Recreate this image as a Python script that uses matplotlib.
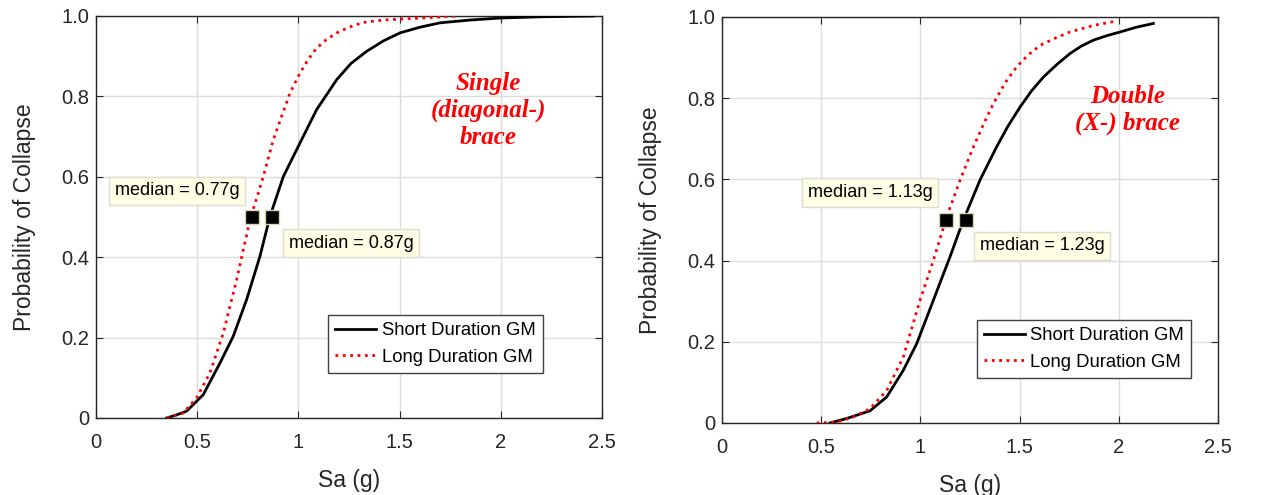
import numpy as np
import matplotlib
matplotlib.use("Agg")
import matplotlib.pyplot as plt

plt.rcParams['font.family'] = ['Liberation Sans', 'DejaVu Sans']

# single (diagonal-) brace
single_short_x = [0.35, 0.40, 0.448, 0.53, 0.613, 0.678, 0.744, 0.81, 0.86, 0.926, 1.0, 1.09, 1.19, 1.26, 1.337, 1.42, 1.502, 1.60, 1.70, 1.85, 2.0, 2.2, 2.46]
single_short_p = [0.0, 0.008, 0.017, 0.058, 0.137, 0.203, 0.294, 0.402, 0.502, 0.601, 0.676, 0.767, 0.842, 0.882, 0.912, 0.938, 0.958, 0.972, 0.983, 0.99, 0.995, 0.998, 1.0]
single_long_x = [0.35, 0.43, 0.497, 0.563, 0.629, 0.695, 0.761, 0.827, 0.876, 0.958, 1.008, 1.05, 1.09, 1.14, 1.19, 1.25, 1.32, 1.42, 1.535, 1.65, 1.78]
single_long_p = [0.0, 0.012, 0.05, 0.112, 0.211, 0.344, 0.493, 0.601, 0.692, 0.808, 0.858, 0.893, 0.92, 0.942, 0.958, 0.972, 0.984, 0.99, 0.993, 0.996, 1.0]

# double (X-) brace
double_short_x = [0.544, 0.628, 0.746, 0.83, 0.914, 0.981, 1.065, 1.149, 1.216, 1.30, 1.384, 1.44, 1.502, 1.56, 1.62, 1.69, 1.754, 1.81, 1.872, 1.94, 2.006, 2.09, 2.174]
double_short_p = [0.0, 0.011, 0.03, 0.064, 0.13, 0.195, 0.302, 0.409, 0.499, 0.598, 0.68, 0.73, 0.778, 0.818, 0.852, 0.884, 0.91, 0.928, 0.943, 0.954, 0.963, 0.975, 0.984]
double_long_x = [0.477, 0.578, 0.662, 0.746, 0.83, 0.914, 0.998, 1.065, 1.132, 1.20, 1.267, 1.32, 1.368, 1.43, 1.485, 1.54, 1.603, 1.68, 1.754, 1.87, 1.99]
double_long_p = [0.0, 0.002, 0.015, 0.035, 0.08, 0.163, 0.302, 0.40, 0.507, 0.598, 0.68, 0.738, 0.787, 0.84, 0.877, 0.905, 0.93, 0.948, 0.963, 0.979, 0.99]

medians_single = [0.77, 0.87]
medians_double = [1.13, 1.23]

panels = [
    dict(rect=[0.0758, 0.1556, 0.3997, 0.8121],
         short=(single_short_x, single_short_p), long=(single_long_x, single_long_p),
         med=medians_single, med_pos=[(0.40, 0.565), (1.26, 0.435)],
         title="Single\n(diagonal-)\nbrace", title_pos=(1.94, 0.765),
         leg_anchor=(0.883, 0.112)),
    dict(rect=[0.5703, 0.1455, 0.3918, 0.8202],
         short=(double_short_x, double_short_p), long=(double_long_x, double_long_p),
         med=medians_double, med_pos=[(0.746, 0.567), (1.613, 0.436)],
         title="Double\n(X-) brace", title_pos=(2.046, 0.77),
         leg_anchor=(0.946, 0.111)),
]

fig = plt.figure(figsize=(12.66, 4.95), dpi=100)
dark = '#262626'

for p in panels:
    ax = fig.add_axes(p['rect'])
    ax.plot(*p['short'], color='black', lw=2, label='Short Duration GM', zorder=3)
    ax.plot(*p['long'], color='red', lw=2, ls=':', label='Long Duration GM', zorder=3)
    ax.plot(p['med'], [0.5, 0.5], ls='none', marker='s', ms=10, mfc='black',
            mec='#d8d8b0', mew=1, zorder=5)
    for m, (tx, ty) in zip(p['med'], p['med_pos']):
        ax.text(tx, ty, f"median = {m:.2f}g", ha='center', va='center', fontsize=13,
                color='black', zorder=6,
                bbox=dict(boxstyle='square,pad=0.32', fc='#ffffe6', ec='#dcdcd0', lw=1))
    ax.text(*p['title_pos'], p['title'], ha='center', va='center', color='red',
            fontsize=18, fontweight='bold', fontstyle='italic',
            family=['Liberation Serif', 'DejaVu Serif'], linespacing=1.2)
    ax.set_xlim(0, 2.5)
    ax.set_ylim(0, 1)
    ax.set_xticks([0, 0.5, 1, 1.5, 2, 2.5])
    ax.set_xticklabels(['0', '0.5', '1', '1.5', '2', '2.5'])
    ax.set_yticks([0, 0.2, 0.4, 0.6, 0.8, 1.0])
    ax.set_yticklabels(['0', '0.2', '0.4', '0.6', '0.8', '1.0'])
    ax.grid(True, color='#dcdcdc', lw=1)
    ax.set_axisbelow(True)
    ax.tick_params(direction='in', top=True, right=True, length=5, labelsize=14.5,
                   colors=dark)
    ax.tick_params(axis='x', pad=11)
    ax.tick_params(axis='y', pad=5)
    for s in ax.spines.values():
        s.set_color(dark)
        s.set_linewidth(1)
    ax.set_xlabel('Sa (g)', fontsize=16.5, color=dark, labelpad=12)
    ax.set_ylabel('Probability of Collapse', fontsize=16.5, color=dark, labelpad=18)
    leg = ax.legend(loc='lower right', bbox_to_anchor=p['leg_anchor'], fontsize=13.3,
                    fancybox=False, edgecolor='#404040', framealpha=1,
                    borderaxespad=0, handlelength=2.2, borderpad=0.4,
                    labelspacing=0.5, handletextpad=0.3)
    leg.get_frame().set_linewidth(1)

fig.savefig('out.png', dpi=100)
